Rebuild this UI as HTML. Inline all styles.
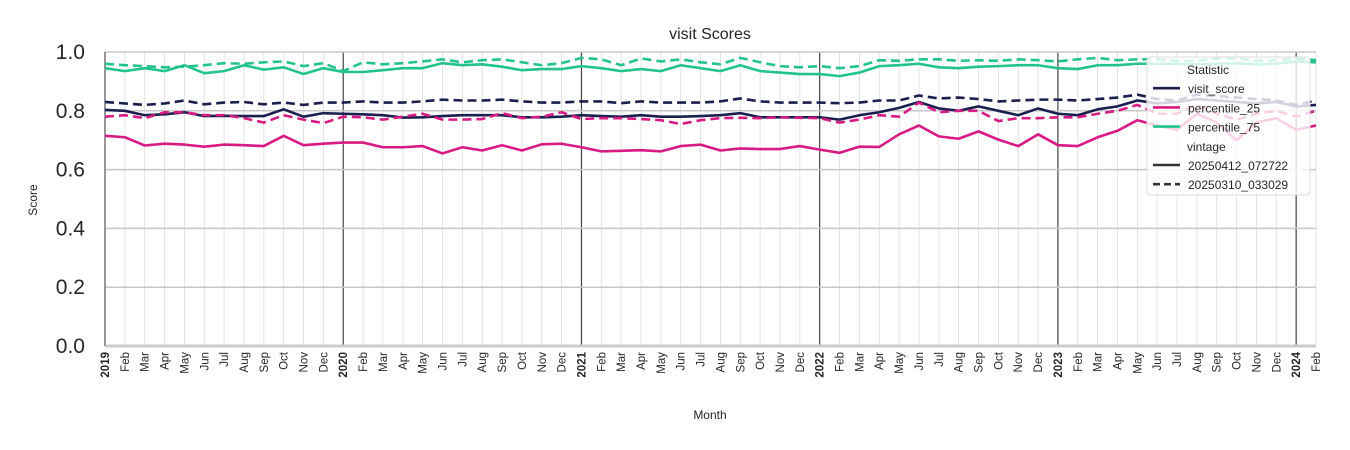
<!DOCTYPE html>
<html><head><meta charset="utf-8"><style>
body{margin:0;background:#fff;}
svg{display:block;font-family:"Liberation Sans","DejaVu Sans",sans-serif;}
</style></head><body>
<svg id="chart" width="1350" height="450"></svg>
<script>
const months=["Jan","Feb","Mar","Apr","May","Jun","Jul","Aug","Sep","Oct","Nov","Dec"];
const startYear=2019;
const nMonths=62;
const yTicks=[0.0,0.2,0.4,0.6,0.8,1.0];
const visitSolid=[0.803,0.80,0.785,0.788,0.795,0.782,0.783,0.782,0.782,0.805,0.78,0.792,0.79,0.788,0.785,0.777,0.778,0.782,0.785,0.785,0.785,0.778,0.778,0.78,0.785,0.782,0.78,0.785,0.78,0.78,0.782,0.785,0.792,0.778,0.778,0.778,0.778,0.77,0.785,0.795,0.81,0.83,0.808,0.8,0.815,0.8,0.785,0.808,0.79,0.785,0.805,0.815,0.835,0.825,0.83,0.84,0.835,0.83,0.825,0.83,0.815,0.82];
const visitDashed=[0.83,0.825,0.82,0.825,0.835,0.822,0.828,0.83,0.822,0.828,0.82,0.828,0.828,0.832,0.828,0.828,0.832,0.838,0.835,0.835,0.838,0.832,0.828,0.828,0.832,0.832,0.826,0.832,0.828,0.828,0.828,0.832,0.842,0.832,0.828,0.828,0.828,0.826,0.828,0.835,0.835,0.852,0.842,0.845,0.84,0.832,0.835,0.838,0.838,0.835,0.84,0.845,0.855,0.84,0.835,0.855,0.85,0.845,0.84,0.835,0.82,0.835];
const p25Solid=[0.715,0.71,0.682,0.688,0.685,0.678,0.685,0.683,0.68,0.715,0.683,0.688,0.692,0.692,0.676,0.676,0.68,0.655,0.676,0.665,0.683,0.665,0.686,0.688,0.676,0.662,0.664,0.666,0.662,0.68,0.685,0.665,0.672,0.67,0.67,0.68,0.668,0.657,0.678,0.677,0.72,0.75,0.713,0.705,0.73,0.702,0.68,0.72,0.683,0.68,0.71,0.732,0.768,0.75,0.735,0.79,0.76,0.7,0.76,0.775,0.735,0.75];
const p25Dashed=[0.78,0.785,0.775,0.795,0.795,0.785,0.785,0.775,0.76,0.785,0.77,0.758,0.78,0.778,0.77,0.78,0.79,0.77,0.77,0.772,0.792,0.775,0.78,0.795,0.772,0.775,0.775,0.772,0.768,0.755,0.768,0.775,0.776,0.775,0.778,0.776,0.775,0.76,0.77,0.785,0.78,0.828,0.795,0.8,0.8,0.765,0.775,0.775,0.778,0.778,0.79,0.8,0.82,0.79,0.79,0.82,0.79,0.77,0.79,0.8,0.78,0.8];
const p75Solid=[0.945,0.935,0.945,0.935,0.955,0.928,0.935,0.955,0.94,0.948,0.925,0.945,0.932,0.932,0.938,0.945,0.945,0.962,0.955,0.958,0.95,0.938,0.942,0.942,0.952,0.945,0.935,0.942,0.935,0.955,0.945,0.935,0.955,0.935,0.93,0.925,0.925,0.918,0.93,0.952,0.955,0.96,0.948,0.945,0.95,0.952,0.955,0.955,0.945,0.942,0.955,0.955,0.96,0.96,0.96,0.958,0.96,0.962,0.958,0.96,0.968,0.965];
const p75Dashed=[0.96,0.955,0.952,0.948,0.95,0.955,0.962,0.96,0.965,0.968,0.952,0.962,0.935,0.965,0.958,0.962,0.968,0.975,0.965,0.972,0.975,0.965,0.955,0.962,0.98,0.975,0.955,0.978,0.968,0.975,0.965,0.958,0.98,0.965,0.952,0.948,0.952,0.945,0.952,0.972,0.97,0.975,0.975,0.97,0.972,0.97,0.975,0.972,0.968,0.975,0.98,0.972,0.975,0.975,0.97,0.97,0.978,0.978,0.97,0.972,0.978,0.972];

const NS="http://www.w3.org/2000/svg";
const svg=document.getElementById('chart');
const X0=105,X1=1316,Y0=346,Y1=52;
const xs=i=>X0+i*(X1-X0)/(nMonths-1);
const ys=v=>Y0-v*(Y0-Y1);
function mk(tag,attrs,parent){const e=document.createElementNS(NS,tag);for(const k in attrs)e.setAttribute(k,attrs[k]);(parent||svg).appendChild(e);return e;}

const grid=mk('g',{});


for(let i=0;i<nMonths;i++){
  const yr=i%12===0;
  const l=mk('line',{x1:xs(i),x2:xs(i),y1:Y1,y2:Y0,stroke:yr?'#444':'#ddd','stroke-width':yr?1.2:0.8},grid);
  
  
}
yTicks.forEach(t=>{
  const l=mk('line',{x1:X0,x2:X1,y1:ys(t),y2:ys(t),stroke:t===0?'#ccc':'#c8c8c8','stroke-width':t===0?3:1.5},grid);
  
  
  const tx=mk('text',{x:85,y:ys(t)+7,'text-anchor':'end','font-size':21,fill:'#262626'},svg);
  tx.textContent=t.toFixed(1);
  
  
});
const lsp=mk('line',{x1:X0,x2:X0,y1:Y1,y2:Y0,stroke:'#555','stroke-width':1});



for(let i=0;i<nMonths;i++){
  const yr=i%12===0;
  const label=yr?String(startYear+i/12):months[i%12];
  const x=xs(i)+4,y=352;
  const t=mk('text',{x:x,y:y,'font-size':11.5,'font-weight':yr?'bold':'normal',fill:'#262626','text-anchor':'end',transform:`rotate(-90 ${x} ${y})`});
  t.textContent=label;
  
  
}

const series=[
 [visitSolid,'#1b1f4e',null,'visit-score-line'],
 [visitDashed,'#1b1f4e','9,5','visit-score-dashed-line'],
 [p25Solid,'#d81b84',null,'percentile-25-line'],
 [p25Dashed,'#d81b84','9,5','percentile-25-dashed-line'],
 [p75Solid,'#22c48a',null,'percentile-75-line'],
 [p75Dashed,'#22c48a','9,5','percentile-75-dashed-line']
];
series.forEach(([d,c,da,n])=>{
  const p=mk('polyline',{points:d.map((v,i)=>xs(i)+','+ys(v)).join(' '),fill:'none',stroke:c,'stroke-width':2.6,'stroke-linejoin':'round'});
  if(da)p.setAttribute('stroke-dasharray',da);
  
  
});

const title=mk('text',{x:710,y:39,'text-anchor':'middle','font-size':16,fill:'#262626'});
title.textContent='visit Scores';


const yt=mk('text',{x:37,y:200,'text-anchor':'middle','font-size':12,fill:'#262626',transform:'rotate(-90 37 200)'});
yt.textContent='Score';


const xt=mk('text',{x:710,y:419,'text-anchor':'middle','font-size':12,fill:'#262626'});
xt.textContent='Month';



const lg=mk('g',{});


mk('rect',{x:1147,y:57,width:163,height:138,rx:3,fill:'rgba(255,255,255,0.8)',stroke:'#ddd'},lg);
const entries=[['Statistic',null,null],['visit_score','#1b1f4e',null],['percentile_25','#d81b84',null],['percentile_75','#22c48a',null],['vintage',null,null],['20250412_072722','#333',null],['20250310_033029','#333','7,4']];
entries.forEach(([txt,c,da],k)=>{
  const y=69+k*19.2;
  const t=mk('text',{x:c?1188:1187,y:y+5,'font-size':12,fill:'#262626'},lg);
  t.textContent=txt;
  
  
  if(c){const l=mk('line',{x1:1153,x2:1180,y1:y,y2:y,stroke:c,'stroke-width':2.6},lg);if(da)l.setAttribute('stroke-dasharray',da);
    
    }
});
</script>
</body></html>
